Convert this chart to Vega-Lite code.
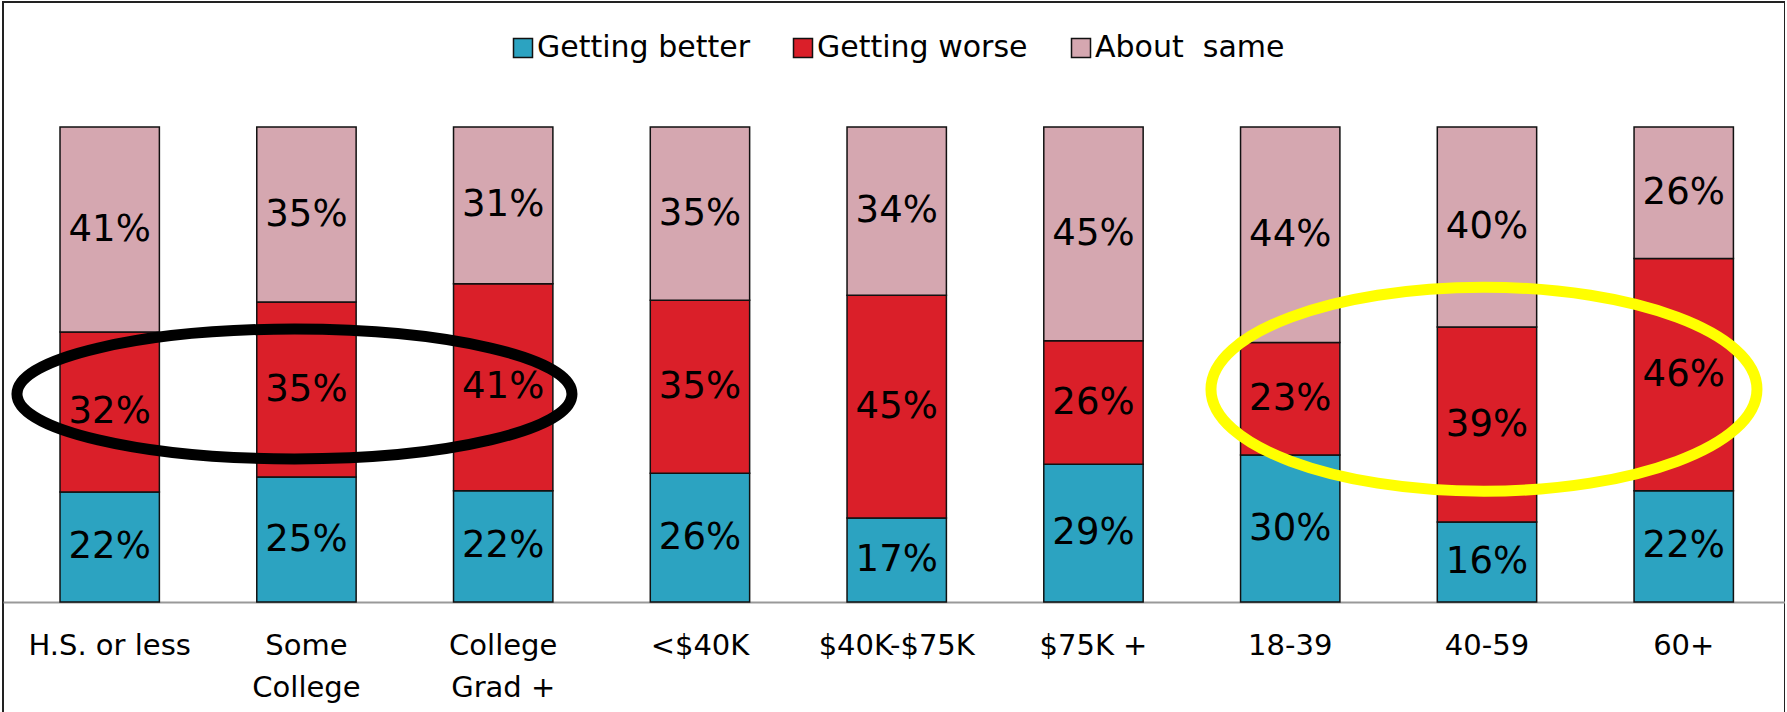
{
  "$schema": "https://vega.github.io/schema/vega-lite/v6.json",
  "width": 1782,
  "height": 712,
  "autosize": {"type": "none"},
  "padding": {"left": 3, "top": 2, "right": 0, "bottom": 0},
  "background": "#ffffff",
  "config": {
    "view": {"stroke": "#222222", "strokeWidth": 2},
    "font": "DejaVu Sans"
  },
  "data": {
    "values": [
      {"group": "H.S. or less", "series": "Getting better", "pct": 0.22},
      {"group": "H.S. or less", "series": "Getting worse", "pct": 0.32},
      {"group": "H.S. or less", "series": "About  same", "pct": 0.41},
      {"group": "Some College", "series": "Getting better", "pct": 0.25},
      {"group": "Some College", "series": "Getting worse", "pct": 0.35},
      {"group": "Some College", "series": "About  same", "pct": 0.35},
      {"group": "College Grad +", "series": "Getting better", "pct": 0.22},
      {"group": "College Grad +", "series": "Getting worse", "pct": 0.41},
      {"group": "College Grad +", "series": "About  same", "pct": 0.31},
      {"group": "<$40K", "series": "Getting better", "pct": 0.26},
      {"group": "<$40K", "series": "Getting worse", "pct": 0.35},
      {"group": "<$40K", "series": "About  same", "pct": 0.35},
      {"group": "$40K-$75K", "series": "Getting better", "pct": 0.17},
      {"group": "$40K-$75K", "series": "Getting worse", "pct": 0.45},
      {"group": "$40K-$75K", "series": "About  same", "pct": 0.34},
      {"group": "$75K +", "series": "Getting better", "pct": 0.29},
      {"group": "$75K +", "series": "Getting worse", "pct": 0.26},
      {"group": "$75K +", "series": "About  same", "pct": 0.45},
      {"group": "18-39", "series": "Getting better", "pct": 0.30},
      {"group": "18-39", "series": "Getting worse", "pct": 0.23},
      {"group": "18-39", "series": "About  same", "pct": 0.44},
      {"group": "40-59", "series": "Getting better", "pct": 0.16},
      {"group": "40-59", "series": "Getting worse", "pct": 0.39},
      {"group": "40-59", "series": "About  same", "pct": 0.40},
      {"group": "60+", "series": "Getting better", "pct": 0.22},
      {"group": "60+", "series": "Getting worse", "pct": 0.46},
      {"group": "60+", "series": "About  same", "pct": 0.26}
    ]
  },
  "transform": [
    {"calculate": "indexof(['Getting better','Getting worse','About  same'], datum.series)", "as": "rank"}
  ],
  "encoding": {
    "x": {
      "field": "group",
      "type": "nominal",
      "scale": {
        "domain": ["H.S. or less", "Some College", "College Grad +", "<$40K", "$40K-$75K", "$75K +", "18-39", "40-59", "60+"],
        "paddingInner": 0.495,
        "paddingOuter": 0.276,
        "align": 0.525
      },
      "axis": {
        "title": null,
        "orient": "bottom",
        "offset": -112,
        "ticks": false,
        "tickSize": 0,
        "domain": true,
        "domainColor": "#999999",
        "domainWidth": 2,
        "labelAngle": 0,
        "labelFont": "DejaVu Sans",
        "labelFontSize": 29,
        "labelColor": "#000000",
        "labelPadding": 29,
        "labelLimit": 0,
        "labelLineHeight": 42,
        "labelExpr": "datum.label == 'Some College' ? ['Some', 'College'] : datum.label == 'College Grad +' ? ['College', 'Grad +'] : datum.label"
      }
    }
  },
  "layer": [
    {
      "mark": {"type": "bar", "stroke": "#111111", "strokeWidth": 1.5},
      "encoding": {
        "y": {
          "field": "pct",
          "type": "quantitative",
          "stack": "normalize",
          "scale": {"domain": [-0.23579, 1.26316], "nice": false, "zero": false},
          "axis": null
        },
        "fill": {
          "field": "series",
          "type": "nominal",
          "scale": {
            "domain": ["Getting better", "Getting worse", "About  same"],
            "range": ["#2ca3c1", "#da1f29", "#d5a7b0"]
          },
          "legend": {
            "title": null,
            "orient": "none",
            "legendX": 505,
            "legendY": 31,
            "direction": "horizontal",
            "symbolType": "square",
            "symbolSize": 361,
            "symbolStrokeColor": "#111111",
            "symbolStrokeWidth": 1.5,
            "labelFont": "DejaVu Sans",
            "labelFontSize": 30,
            "labelColor": "#000000",
            "labelOffset": -1,
            "columnPadding": 38,
            "labelLimit": 0,
            "labelExpr": "replace(datum.label, '  ', '\u00a0 ')"
          }
        },
        "order": {"field": "rank", "type": "quantitative"}
      }
    },
    {
      "mark": {"type": "text", "font": "DejaVu Sans", "fontSize": 37, "color": "#000000", "baseline": "middle", "align": "center"},
      "encoding": {
        "y": {
          "field": "pct",
          "type": "quantitative",
          "stack": "normalize",
          "bandPosition": 0.5,
          "scale": {"domain": [-0.23579, 1.26316], "nice": false, "zero": false},
          "axis": null
        },
        "detail": {"field": "series", "type": "nominal"},
        "text": {"field": "pct", "type": "quantitative", "format": ".0%"},
        "order": {"field": "rank", "type": "quantitative"}
      }
    },
    {
      "data": {"values": [{"group": "Some College", "level": 0.438}]},
      "mark": {
        "type": "point",
        "filled": false,
        "shape": "M -1.0432 0 C -1.0432 -0.1292 -0.5955 -0.234 -0.0432 -0.234 C 0.5091 -0.234 0.9568 -0.1292 0.9568 0 C 0.9568 0.1292 0.5091 0.234 -0.0432 0.234 C -0.5955 0.234 -1.0432 0.1292 -1.0432 0 Z",
        "size": 308025,
        "stroke": "#000000",
        "strokeWidth": 11,
        "opacity": 1
      },
      "encoding": {
        "y": {
          "field": "level",
          "type": "quantitative",
          "scale": {"domain": [-0.23579, 1.26316], "nice": false, "zero": false},
          "axis": null
        }
      }
    },
    {
      "data": {"values": [{"group": "40-59", "level": 0.448}]},
      "mark": {
        "type": "point",
        "filled": false,
        "shape": "M -1.011 0 C -1.011 -0.2063 -0.5633 -0.3736 -0.011 -0.3736 C 0.5413 -0.3736 0.989 -0.2063 0.989 0 C 0.989 0.2063 0.5413 0.3736 -0.011 0.3736 C -0.5633 0.3736 -1.011 0.2063 -1.011 0 Z",
        "size": 298116,
        "stroke": "#ffff00",
        "strokeWidth": 11,
        "opacity": 1
      },
      "encoding": {
        "y": {
          "field": "level",
          "type": "quantitative",
          "scale": {"domain": [-0.23579, 1.26316], "nice": false, "zero": false},
          "axis": null
        }
      }
    }
  ]
}
